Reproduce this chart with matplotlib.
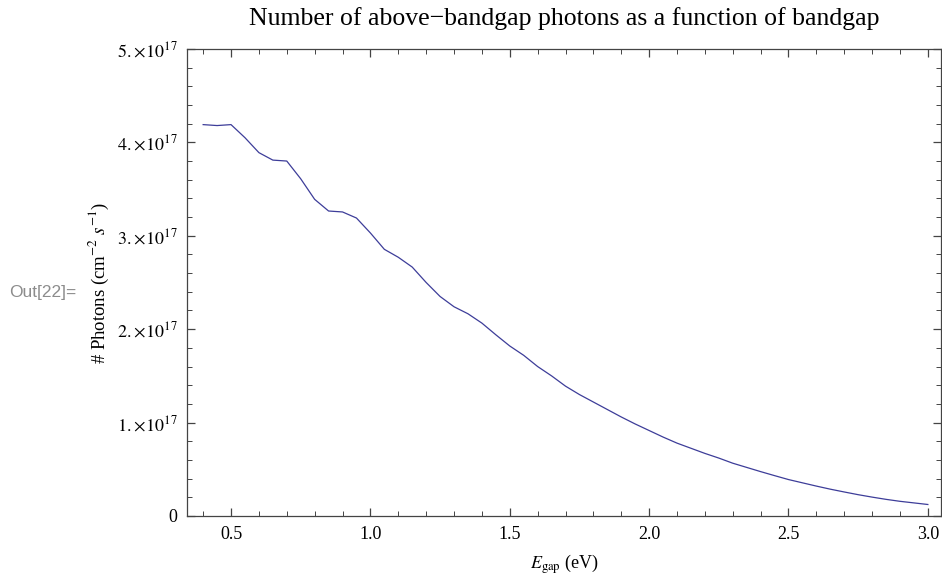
import matplotlib
matplotlib.use("Agg")
import matplotlib.pyplot as plt
from matplotlib.ticker import MultipleLocator, FixedLocator, FuncFormatter

# bandgap (eV) and number of above-bandgap photons (units of 1e17 cm^-2 s^-1)
egap = [0.40, 0.45, 0.50, 0.55, 0.60, 0.65, 0.70, 0.75, 0.80, 0.85,
        0.90, 0.95, 1.00, 1.05, 1.10, 1.15, 1.20, 1.25, 1.30, 1.35,
        1.40, 1.45, 1.50, 1.55, 1.60, 1.65, 1.70, 1.75, 1.80, 1.85,
        1.90, 1.95, 2.00, 2.05, 2.10, 2.15, 2.20, 2.25, 2.30, 2.35,
        2.40, 2.45, 2.50, 2.55, 2.60, 2.65, 2.70, 2.75, 2.80, 2.85,
        2.90, 2.95, 3.00]
photons = [4.19, 4.18, 4.19, 4.05, 3.89, 3.81, 3.80, 3.61, 3.39, 3.265,
           3.255, 3.19, 3.03, 2.855, 2.77, 2.665, 2.50, 2.35, 2.24, 2.165,
           2.065, 1.94, 1.82, 1.72, 1.60, 1.50, 1.39, 1.30, 1.22, 1.14,
           1.06, 0.985, 0.915, 0.845, 0.78, 0.725, 0.67, 0.62, 0.565, 0.52,
           0.475, 0.432, 0.39, 0.355, 0.32, 0.287, 0.257, 0.228, 0.202, 0.178,
           0.157, 0.14, 0.123]

ytick_vals = [0, 1, 2, 3, 4, 5]

plt.rcParams['font.family'] = ['Liberation Serif', 'DejaVu Serif']
plt.rcParams['mathtext.fontset'] = 'stix'

fig = plt.figure(figsize=(9.42, 5.76), dpi=100)
ax = fig.add_axes([0.1985, 0.1042, 0.8004, 0.8108])

ax.plot(egap, [p * 1e17 for p in photons], color='#3d3d99', lw=0.9)

ax.set_xlim(0.342, 3.047)
ax.set_ylim(0, 5e17)

ax.xaxis.set_major_locator(MultipleLocator(0.5))
ax.xaxis.set_minor_locator(MultipleLocator(0.1))
ax.xaxis.set_major_formatter(FuncFormatter(lambda v, p: '%.1f' % v))
ax.yaxis.set_major_locator(FixedLocator([v * 1e17 for v in ytick_vals]))
ax.yaxis.set_minor_locator(MultipleLocator(0.2e17))


def yfmt(v, pos):
    n = int(round(v / 1e17))
    if n == 0:
        return '0'
    return r'$%d.\!\times\!10^{17}$' % n


ax.yaxis.set_major_formatter(FuncFormatter(yfmt))

for s in ax.spines.values():
    s.set_color('#444444')
    s.set_linewidth(0.9)
ax.tick_params(which='both', direction='in', top=True, right=True,
               colors='#444444', labelcolor='black', labelsize=13)
ax.tick_params(which='major', length=6, width=0.9, pad=7)
ax.tick_params(which='minor', length=3.3, width=0.7)

ax.set_title('Number of above\u2212bandgap photons as a function of bandgap',
             fontsize=18.5, pad=17)
ax.set_xlabel(r'$E_{\mathrm{gap}}$ (eV)', fontsize=13, labelpad=7)
ax.set_ylabel(r'# Photons (cm$^{-2}$ $s^{-1}$)', fontsize=13.5, labelpad=4)

fig.text(0.01, 0.493, 'Out[22]=', color='#8c8c8c', fontsize=12.5,
         family='Liberation Sans', va='center', ha='left')

fig.savefig('out.png', dpi=100)
